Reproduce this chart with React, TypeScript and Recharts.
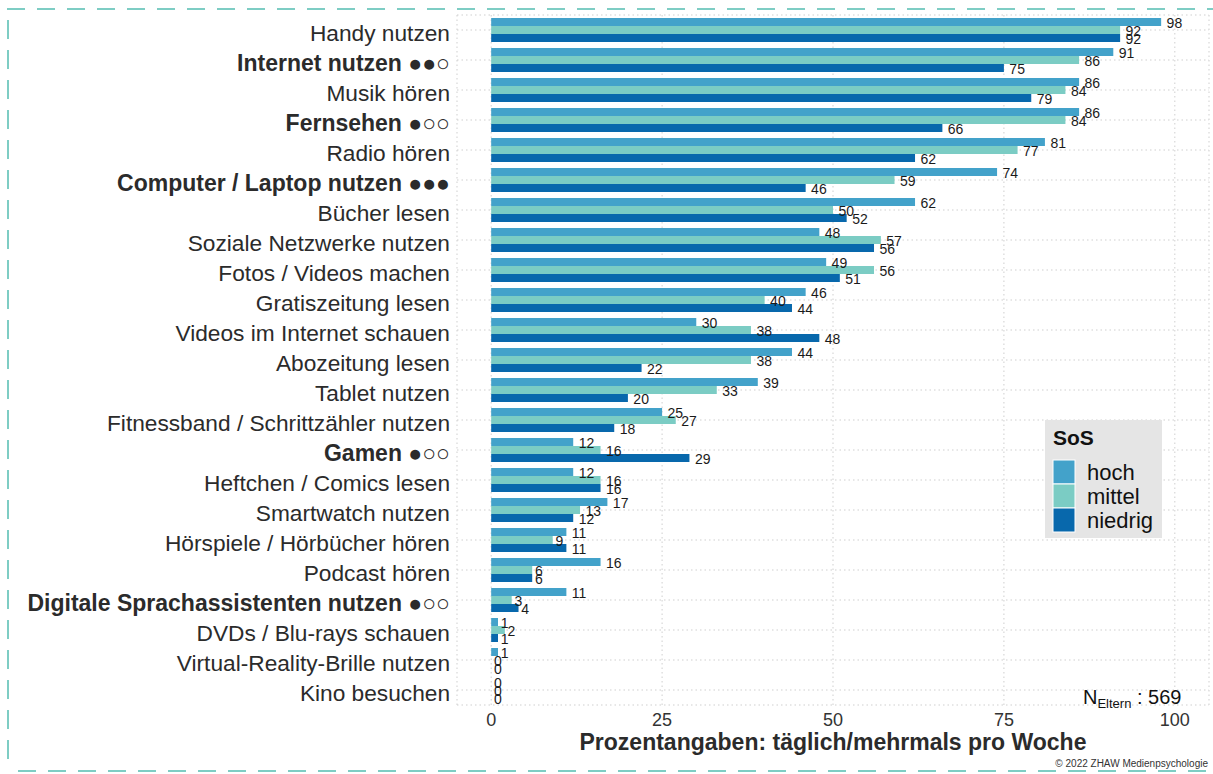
import React from "react";
import {
  BarChart,
  Bar,
  XAxis,
  YAxis,
  CartesianGrid,
  Legend,
  LabelList,
} from "recharts";

const categories = [
  "Handy nutzen",
  "Internet nutzen ●●○",
  "Musik hören",
  "Fernsehen ●○○",
  "Radio hören",
  "Computer / Laptop nutzen ●●●",
  "Bücher lesen",
  "Soziale Netzwerke nutzen",
  "Fotos / Videos machen",
  "Gratiszeitung lesen",
  "Videos im Internet schauen",
  "Abozeitung lesen",
  "Tablet nutzen",
  "Fitnessband / Schrittzähler nutzen",
  "Gamen ●○○",
  "Heftchen / Comics lesen",
  "Smartwatch nutzen",
  "Hörspiele / Hörbücher hören",
  "Podcast hören",
  "Digitale Sprachassistenten nutzen ●○○",
  "DVDs / Blu-rays schauen",
  "Virtual-Reality-Brille nutzen",
  "Kino besuchen",
];

const hoch = [98, 91, 86, 86, 81, 74, 62, 48, 49, 46, 30, 44, 39, 25, 12, 12, 17, 11, 16, 11, 1, 1, 0];
const mittel = [92, 86, 84, 84, 77, 59, 50, 57, 56, 40, 38, 38, 33, 27, 16, 16, 13, 9, 6, 3, 2, 0, 0];
const niedrig = [92, 75, 79, 66, 62, 46, 52, 56, 51, 44, 48, 22, 20, 18, 29, 16, 12, 11, 6, 4, 1, 0, 0];

const seriesNames = ["hoch", "mittel", "niedrig"];
const seriesColors = ["#43a2ca", "#7bccc4", "#0868ac"];
const xTicks = [0, 25, 50, 75, 100];

const FONT = '"Liberation Sans", Arial, sans-serif';

const data = categories.map((cat, i) => ({
  cat,
  hoch: hoch[i],
  mittel: mittel[i],
  niedrig: niedrig[i],
}));

// bold labels are the ones with the dot rating
const CatTick = (props: any) => {
  const { x, y, payload } = props;
  const bold = /[●○]/.test(payload.value);
  return (
    <text
      x={x}
      y={y + 11}
      textAnchor="end"
      fontSize={bold ? 23 : 22.7}
      fontWeight={bold ? 700 : 400}
      fill="#2b2b2b"
      fontFamily={FONT}
    >
      {payload.value}
    </text>
  );
};

const ValueLabel = (props: any) => {
  const { x, y, width, height, value } = props;
  const txt = String(value);
  const w = txt.length * 7.8;
  return (
    <text
      x={x + width + w * 0.35}
      y={y + height / 2 + 6}
      fontSize={14}
      fill="#1a1a1a"
      fontFamily={FONT}
    >
      {txt}
    </text>
  );
};

const renderLegend = () => (
  <svg width={117} height={118} style={{ display: "block" }}>
    <rect x={0} y={0} width={117} height={118} fill="#e5e5e5" />
    <text x={8} y={25} fontSize={21} fontWeight={700} fill="#111" fontFamily={FONT}>
      SoS
    </text>
    {seriesNames.map((name, i) => (
      <g key={name}>
        <rect
          x={8}
          y={40 + i * 24}
          width={22}
          height={24}
          fill={seriesColors[i]}
          stroke="#fff"
          strokeWidth={1}
        />
        <text x={42} y={60 + i * 24} fontSize={22} fill="#111" fontFamily={FONT}>
          {name}
        </text>
      </g>
    ))}
  </svg>
);

export default function App() {
  return (
    <div
      style={{
        position: "absolute",
        left: 0,
        top: 0,
        width: 1213,
        height: 774,
        fontFamily: FONT,
        background: "#fff",
      }}
    >
      <BarChart
        width={1213}
        height={774}
        data={data}
        layout="vertical"
        margin={{ top: 15, right: 4, bottom: 19, left: 0 }}
        barCategoryGap="10%"
        barGap={0}
      >
        <CartesianGrid stroke="#cfcfcf" strokeDasharray="1.5 3" />
        <XAxis
          type="number"
          domain={[-5, 105]}
          ticks={xTicks}
          axisLine={false}
          tickLine={false}
          tickSize={0}
          tickMargin={8}
          height={50}
          tick={{ fontSize: 18, fill: "#333", fontFamily: FONT }}
          label={{
            value: "Prozentangaben: täglich/mehrmals pro Woche",
            position: "insideBottom",
            offset: 5,
            fontSize: 23,
            fontWeight: 700,
            fill: "#2b2b2b",
            fontFamily: FONT,
          }}
        />
        <YAxis
          type="category"
          dataKey="cat"
          width={457}
          axisLine={false}
          tickLine={false}
          tickSize={0}
          tickMargin={7}
          interval={0}
          tick={<CatTick />}
        />
        <Legend
          layout="horizontal"
          verticalAlign="middle"
          align="center"
          content={renderLegend}
          wrapperStyle={{ left: 1045, top: 420, width: 117, height: 118 }}
        />
        {seriesNames.map((name, i) => (
          <Bar
            key={name}
            dataKey={name}
            fill={seriesColors[i]}
            minPointSize={0.01}
            isAnimationActive={false}
          >
            <LabelList dataKey={name} content={<ValueLabel />} />
          </Bar>
        ))}
      </BarChart>
      <svg
        width={1213}
        height={774}
        style={{ position: "absolute", left: 0, top: 0, pointerEvents: "none" }}
      >
        <line x1={7} y1={9} x2={1213} y2={9} stroke="#7ecdc4" strokeWidth={2} strokeDasharray="18 12" />
        <line x1={8} y1={20} x2={8} y2={765} stroke="#7ecdc4" strokeWidth={2} strokeDasharray="19 11" />
        <line x1={18} y1={771} x2={1213} y2={771} stroke="#7ecdc4" strokeWidth={2} strokeDasharray="18 12" />
        <text x={1083} y={704} fontSize={20} fill="#111" fontFamily={FONT}>
          N
          <tspan fontSize={13} dy={4}>Eltern</tspan>
          <tspan fontSize={20} dy={-4}> : 569</tspan>
        </text>
        <text x={1208} y={767} fontSize={10} textAnchor="end" fill="#333" fontFamily={FONT}>
          © 2022 ZHAW Medienpsychologie
        </text>
      </svg>
    </div>
  );
}
